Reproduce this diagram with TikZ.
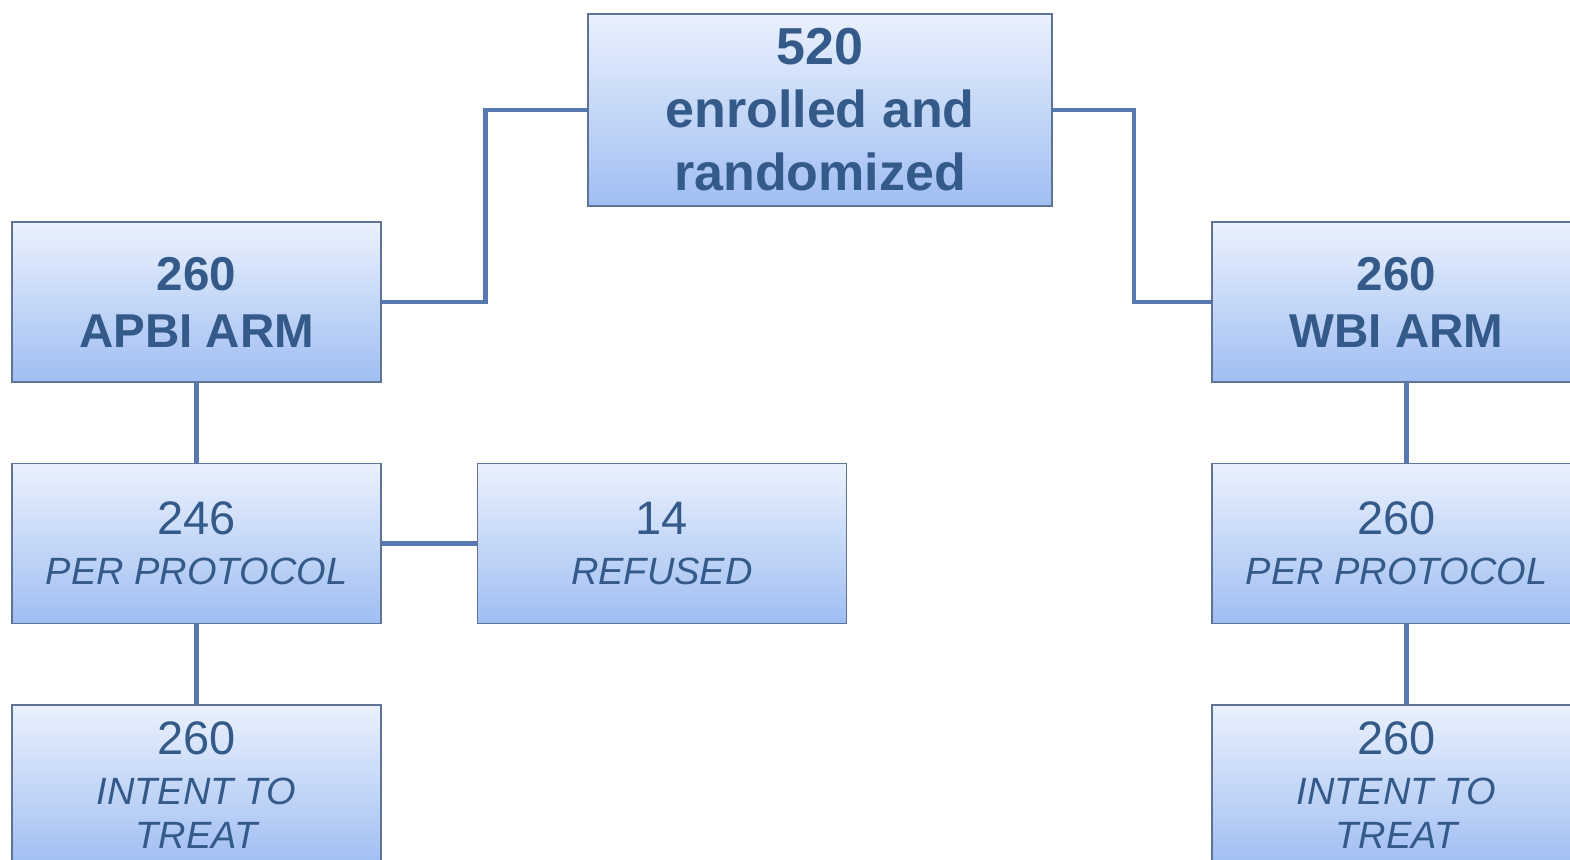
\documentclass[tikz,border=0pt]{standalone}
\usepackage{fontspec}
\setmainfont{Liberation Sans}
\usepackage{xcolor}
\usepackage{tikz}
\usetikzlibrary{positioning, calc}
\definecolor{rtline}{HTML}{5878B0}
\definecolor{rtedge}{HTML}{5E7395}
\definecolor{rttext}{HTML}{345A8A}
\definecolor{rttop}{HTML}{EAF1FD}
\definecolor{rtbot}{HTML}{A0BEF2}

\begin{document}
\begin{tikzpicture}[
  x=1pt, y=1pt,
  box/.style={
    rectangle, draw=rtedge, line width=1.4pt,
    top color=rttop, bottom color=rtbot,
    text=rttext, align=center, inner sep=0pt
  },
  headbox/.style={box, minimum width=464pt, minimum height=192pt,
    font=\fontsize{52}{63}\selectfont\bfseries},
  armbox/.style={box, minimum width=369pt, minimum height=160pt,
    font=\fontsize{47.5}{57}\selectfont\bfseries},
  databox/.style={box, minimum width=369pt, minimum height=160pt,
    font=\fontsize{47}{50}\selectfont},
  link/.style={draw=rtline, line width=4.4pt},
]
\useasboundingbox (0,0) rectangle (1570,-859);
\clip (0,0) rectangle (1570,-859);
\fill[white] (0,0) rectangle (1570,-859);

% randomization
\node[headbox] (enrol) at (820,-110) {520\\enrolled and\\randomized};

% APBI arm
\node[armbox] (apbi) at (196.5,-302) {260\\APBI ARM};
\node[databox, below=80pt of apbi] (pp1) {246\\{\fontsize{38}{44}\selectfont\itshape PER PROTOCOL}};
\node[databox, right=95pt of pp1] (refused) {14\\{\fontsize{38}{44}\selectfont\itshape REFUSED}};
\node[databox, below=80pt of pp1] (itt1) {260\\{\fontsize{38}{44}\selectfont\itshape INTENT TO}\\[-6pt]{\fontsize{38}{44}\selectfont\itshape TREAT}};

% WBI arm
\node[armbox] (wbi) at (1396.5,-302) {260\\WBI ARM};
\node[databox, below=80pt of wbi] (pp2) {260\\{\fontsize{38}{44}\selectfont\itshape PER PROTOCOL}};
\node[databox, below=80pt of pp2] (itt2) {260\\{\fontsize{38}{44}\selectfont\itshape INTENT TO}\\[-6pt]{\fontsize{38}{44}\selectfont\itshape TREAT}};

% connectors
\draw[link] (enrol.west) -- ++(-102,0) |- (apbi.east);
\draw[link] (enrol.east) -- ++(81,0) |- (wbi.west);
\draw[link] (apbi.south) -- (pp1.north);
\draw[link] (pp1.south) -- (itt1.north);
\draw[link] (pp1.east) -- (refused.west);
\draw[link] ([xshift=10pt]wbi.south) -- ([xshift=10pt]pp2.north);
\draw[link] ([xshift=10pt]pp2.south) -- ([xshift=10pt]itt2.north);

\end{tikzpicture}
\end{document}
